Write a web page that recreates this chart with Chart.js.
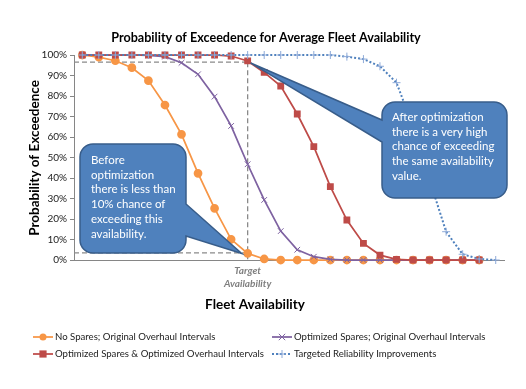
<!DOCTYPE html>
<html>
<head>
<meta charset="utf-8">
<script src="https://cdn.jsdelivr.net/npm/chart.js@4.4.1/dist/chart.umd.min.js"></script>
<style>
  html, body { margin: 0; padding: 0; background: #fff; }
  #wrap { width: 526px; height: 389px; }
</style>
</head>
<body>
<div id="wrap"><canvas id="exceedence"></canvas></div>
<script>
// ====== Data ======
const availabilityLabels = ['', '', '', '', '', '', '', '', '', '', ['Target', 'Availability'],
  '', '', '', '', '', '', '', '', '', '', '', '', '', '', ''];
const targetIndex = 10;
const yTicksPct = [0, 10, 20, 30, 40, 50, 60, 70, 80, 90, 100];

const noSpares = [100, 99, 97.2, 93.8, 87.5, 75.6, 61.3, 42.3, 25.2, 10.1, 3.2, 0.5,
  0, 0, 0, 0, 0, 0, 0, 0, 0, 0, 0, 0, 0];
const optimizedSpares = [100, 100, 100, 100, 99.8, 99.2, 96.2, 90.6, 79.7, 65.4, 46.7, 29.3,
  14.1, 5, 1.6, 0.3, 0, 0, 0, 0, 0, 0, 0, 0, 0];
const optimizedBoth = [100, 100, 100, 100, 100, 100, 100, 100, 100, 99.5, 97.1, 91.5,
  84.9, 71.2, 55.3, 35.8, 19.5, 8.1, 2.4, 0.3, 0, 0, 0, 0, 0];
const targetedReliability = [100, 100, 100, 100, 100, 100, 100, 100, 100, 100, 100, 100,
  100, 100, 100, 100, 99.2, 98, 94.5, 86.5, 65, 39, 13.8, 2.8, 0.5, 0];

const beforeLevel = 3.5;   // horizontal guide, before optimization
const afterLevel = 96.5;   // horizontal guide, after optimization

const FONT = 'Lato, "Open Sans", sans-serif';

// ====== guides, titles, callouts, legend ======
const guideLines = {
  id: 'guideLines',
  beforeDatasetsDraw(chart) {
    const { ctx, scales: { x, y } } = chart;
    const tx = x.getPixelForValue(targetIndex);
    const left = x.left;
    ctx.save();
    ctx.strokeStyle = '#8a8a8a';
    ctx.lineWidth = 1.3;
    ctx.setLineDash([5, 3]);
    ctx.beginPath();
    ctx.moveTo(left, y.getPixelForValue(afterLevel));
    ctx.lineTo(tx, y.getPixelForValue(afterLevel));
    ctx.moveTo(tx, y.getPixelForValue(afterLevel));
    ctx.lineTo(tx, y.getPixelForValue(0));
    ctx.moveTo(left, y.getPixelForValue(beforeLevel));
    ctx.lineTo(tx, y.getPixelForValue(beforeLevel));
    ctx.stroke();
    ctx.restore();
  }
};

function calloutPath(ctx, x0, y0, x1, y1, r, tail) {
  ctx.beginPath();
  ctx.moveTo(x0 + r, y0);
  ctx.lineTo(x1 - r, y0);
  ctx.arcTo(x1, y0, x1, y0 + r, r);
  if (tail.side === 'right') {
    ctx.lineTo(x1, tail.a);
    ctx.lineTo(tail.tx, tail.ty);
    ctx.lineTo(x1, tail.b);
  }
  ctx.lineTo(x1, y1 - r);
  ctx.arcTo(x1, y1, x1 - r, y1, r);
  ctx.lineTo(x0 + r, y1);
  ctx.arcTo(x0, y1, x0, y1 - r, r);
  if (tail.side === 'left') {
    ctx.lineTo(x0, tail.b);
    ctx.lineTo(tail.tx, tail.ty);
    ctx.lineTo(x0, tail.a);
  }
  ctx.lineTo(x0, y0 + r);
  ctx.arcTo(x0, y0, x0 + r, y0, r);
  ctx.closePath();
}

const annotations = {
  id: 'annotations',
  afterDraw(chart) {
    const { ctx, scales: { x, y } } = chart;
    ctx.save();

    // titles
    ctx.fillStyle = '#000';
    ctx.textAlign = 'center';
    ctx.textBaseline = 'middle';
    ctx.font = 'bold 12.6px ' + FONT;
    ctx.fillText('Probability of Exceedence for Average Fleet Availability', 266, 38);
    ctx.font = 'bold 13.5px ' + FONT;
    ctx.fillText('Fleet Availability', 255, 305);
    ctx.save();
    ctx.translate(35, 158);
    ctx.rotate(-Math.PI / 2);
    ctx.fillText('Probability of Exceedence', 0, 0);
    ctx.restore();

    // callouts
    const tx = x.getPixelForValue(targetIndex);
    const callouts = [
      { box: [80, 144, 186, 253], tail: { side: 'right', a: 204, b: 236,
          tx: tx - 6, ty: y.getPixelForValue(noSpares[targetIndex]) },
        text: ['Before', 'optimization', 'there is less than', '10% chance of', 'exceeding this', 'availability.'],
        tx0: 91, ty0: 160 },
      { box: [382, 102, 507, 198], tail: { side: 'left', a: 120, b: 142,
          tx: tx + 3, ty: y.getPixelForValue(optimizedBoth[targetIndex]) + 2 },
        text: ['After optimization', 'there is a very high', 'chance of exceeding', 'the same availability', 'value.'],
        tx0: 392, ty0: 117 }
    ];
    callouts.forEach(c => {
      const [x0, y0, x1, y1] = c.box;
      calloutPath(ctx, x0, y0, x1, y1, 13, c.tail);
      ctx.fillStyle = '#4f81bd';
      ctx.fill();
      ctx.strokeStyle = '#385d8a';
      ctx.lineWidth = 1.5;
      ctx.stroke();
      ctx.fillStyle = '#fff';
      ctx.font = '11.5px ' + FONT;
      ctx.textAlign = 'left';
      ctx.textBaseline = 'middle';
      c.text.forEach((t, i) => ctx.fillText(t, c.tx0, c.ty0 + i * 14.8));
    });

    // legend, two columns
    const slots = [[33, 337], [272, 337], [33, 354], [272, 354]];
    chart.data.datasets.forEach((ds, i) => {
      const [lx, ly] = slots[i];
      ctx.save();
      ctx.strokeStyle = ds.borderColor;
      ctx.lineWidth = ds.borderWidth;
      ctx.setLineDash(ds.borderDash || []);
      ctx.beginPath();
      ctx.moveTo(lx, ly);
      ctx.lineTo(lx + 20, ly);
      ctx.stroke();
      ctx.setLineDash([]);
      drawMarker(ctx, ds.pointStyle, lx + 10, ly, ds.pointRadius, ds.pointBackgroundColor, ds.pointBorderColor);
      ctx.restore();
      ctx.fillStyle = '#222';
      ctx.font = '9.6px ' + FONT;
      ctx.textAlign = 'left';
      ctx.textBaseline = 'middle';
      ctx.fillText(ds.label, lx + 22, ly);
    });
    ctx.restore();
  }
};

function drawMarker(ctx, style, cx, cy, r, fill, stroke) {
  ctx.fillStyle = fill;
  ctx.strokeStyle = stroke;
  ctx.lineWidth = 1;
  ctx.beginPath();
  if (style === 'circle') {
    ctx.arc(cx, cy, r, 0, Math.PI * 2);
    ctx.fill();
  } else if (style === 'rect') {
    ctx.rect(cx - r, cy - r, 2 * r, 2 * r);
    ctx.fill();
  } else if (style === 'crossRot') {
    const d = r * 0.8;
    ctx.moveTo(cx - d, cy - d); ctx.lineTo(cx + d, cy + d);
    ctx.moveTo(cx + d, cy - d); ctx.lineTo(cx - d, cy + d);
    ctx.stroke();
  } else {
    ctx.moveTo(cx - r, cy); ctx.lineTo(cx + r, cy);
    ctx.moveTo(cx, cy - r); ctx.lineTo(cx, cy + r);
    ctx.stroke();
  }
}

// ====== Chart ======
new Chart(document.getElementById('exceedence').getContext('2d'), {
  type: 'line',
  data: {
    labels: availabilityLabels,
    datasets: [{
      label: 'No Spares; Original Overhaul Intervals',
      data: noSpares,
      borderColor: '#f79646',
      borderWidth: 1.75,
      pointStyle: 'circle',
      pointRadius: 3.5,
      pointBackgroundColor: '#f79646',
      pointBorderColor: '#f79646',
      order: 4,
      clip: false
    }, {
      label: 'Optimized Spares; Original Overhaul Intervals',
      data: optimizedSpares,
      borderColor: '#7e62a1',
      borderWidth: 1.75,
      pointStyle: 'crossRot',
      pointRadius: 4,
      pointBackgroundColor: '#7e62a1',
      pointBorderColor: '#7e62a1',
      pointBorderWidth: 1,
      order: 3,
      clip: false
    }, {
      label: 'Optimized Spares & Optimized Overhaul Intervals',
      data: optimizedBoth,
      borderColor: '#be4b48',
      borderWidth: 1.75,
      pointStyle: 'rect',
      pointRadius: 3.6,
      pointBackgroundColor: '#be4b48',
      pointBorderColor: '#be4b48',
      order: 2,
      clip: false
    }, {
      label: 'Targeted Reliability Improvements',
      data: targetedReliability,
      borderColor: '#4f81bd',
      borderWidth: 2,
      borderDash: [2, 2],
      pointStyle: 'cross',
      pointRadius: 4,
      pointBackgroundColor: '#8eaad8',
      pointBorderColor: '#8eaad8',
      pointBorderWidth: 1,
      order: 1,
      clip: false
    }]
  },
  options: {
    responsive: true,
    maintainAspectRatio: false,
    animation: false,
    layout: { padding: { top: 55, right: 22, left: 0, bottom: 0 } },
    plugins: {
      legend: { display: false },
      title: { display: false },
      tooltip: { enabled: false }
    },
    scales: {
      x: {
        type: 'category',
        offset: true,
        grid: { display: false, drawTicks: false, tickLength: 0 },
        border: { display: true, color: '#868686', width: 1 },
        ticks: {
          autoSkip: false,
          maxRotation: 0,
          padding: 4,
          color: '#7f7f7f',
          font: { family: FONT, size: 10, style: 'italic', weight: 'bold', lineHeight: 1.3 }
        },
        afterFit(scale) { scale.height = 129; }
      },
      y: {
        min: 0,
        max: 100,
        afterBuildTicks(scale) { scale.ticks = yTicksPct.map(v => ({ value: v })); },
        grid: { drawOnChartArea: false, drawTicks: true, tickLength: 4, color: '#868686' },
        border: { display: true, color: '#868686', width: 1 },
        ticks: {
          padding: 3,
          color: '#222',
          font: { family: FONT, size: 10 },
          callback: v => v + '%'
        },
        afterFit(scale) { scale.width = 74; }
      }
    }
  },
  plugins: [guideLines, annotations]
});
</script>
</body>
</html>
